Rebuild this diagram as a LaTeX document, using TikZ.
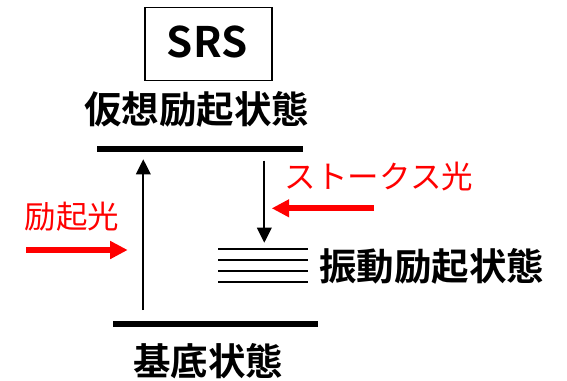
\documentclass[tikz,border=0pt]{standalone}
\usepackage{fontspec}
\setmainfont{Noto Sans CJK JP}[BoldFont={Noto Sans CJK JP Bold}]
\usetikzlibrary{arrows.meta}
\definecolor{pured}{RGB}{255,0,0}
\tikzset{
  level/.style={line width=6pt},
  vib/.style={line width=1.7pt},
  trans/.style={line width=2pt,-{Triangle[length=15pt,width=14.5pt]}},
  light/.style={line width=6pt,pured,-{Triangle[length=17.5pt,width=17pt]}},
  blabel/.style={inner sep=0pt,font=\bfseries\fontsize{37.5}{44}\selectfont},
  rlabel/.style={inner sep=0pt,text=pured,font=\fontsize{31.5}{37}\selectfont},
}
\begin{document}
\begin{tikzpicture}[x=1pt,y=-1pt]
\useasboundingbox (0,0) rectangle (567,380);
% SRS box
\node[draw,line width=1.3pt,minimum width=127pt,minimum height=73pt,inner sep=0pt] (srs) at (208.5,43.7) {};
\node[inner sep=0pt,font=\bfseries\fontsize{42}{48}\selectfont] (srst) at (207,41.5) {SRS};
\node[blabel] (virt) at (196.5,109.5) {仮想励起状態};
% levels
\draw[level] (97,149) -- (303,149);
\draw[level] (113,323.7) -- (318,323.7);
\foreach \yy in {249.3,260,271.3,282}{\draw[vib] (218.3,\yy) -- (308.3,\yy);}
% coordinates
\coordinate (upS) at (143.3,310);
\coordinate (upE) at (143.3,159.3);
\coordinate (dnS) at (264.3,160.7);
\coordinate (dnE) at (264.3,242.7);
\coordinate (exS) at (26,250);
\coordinate (exE) at (127.7,250);
\coordinate (stS) at (374,208.3);
\coordinate (stE) at (271.7,208.3);
\draw[trans] (upS) -- (upE);
\draw[trans] (dnS) -- (dnE);
\draw[light] (exS) -- (exE);
\draw[light] (stS) -- (stE);
% labels
\node[rlabel] (stokes) at (379,176.5) {ストークス光};
\node[rlabel] (excl) at (72,216.5) {励起光};
\node[blabel] (vibl) at (431.7,266.3) {振動励起状態};
\node[blabel] (ground) at (208.3,361) {基底状態};
\end{tikzpicture}
\end{document}
